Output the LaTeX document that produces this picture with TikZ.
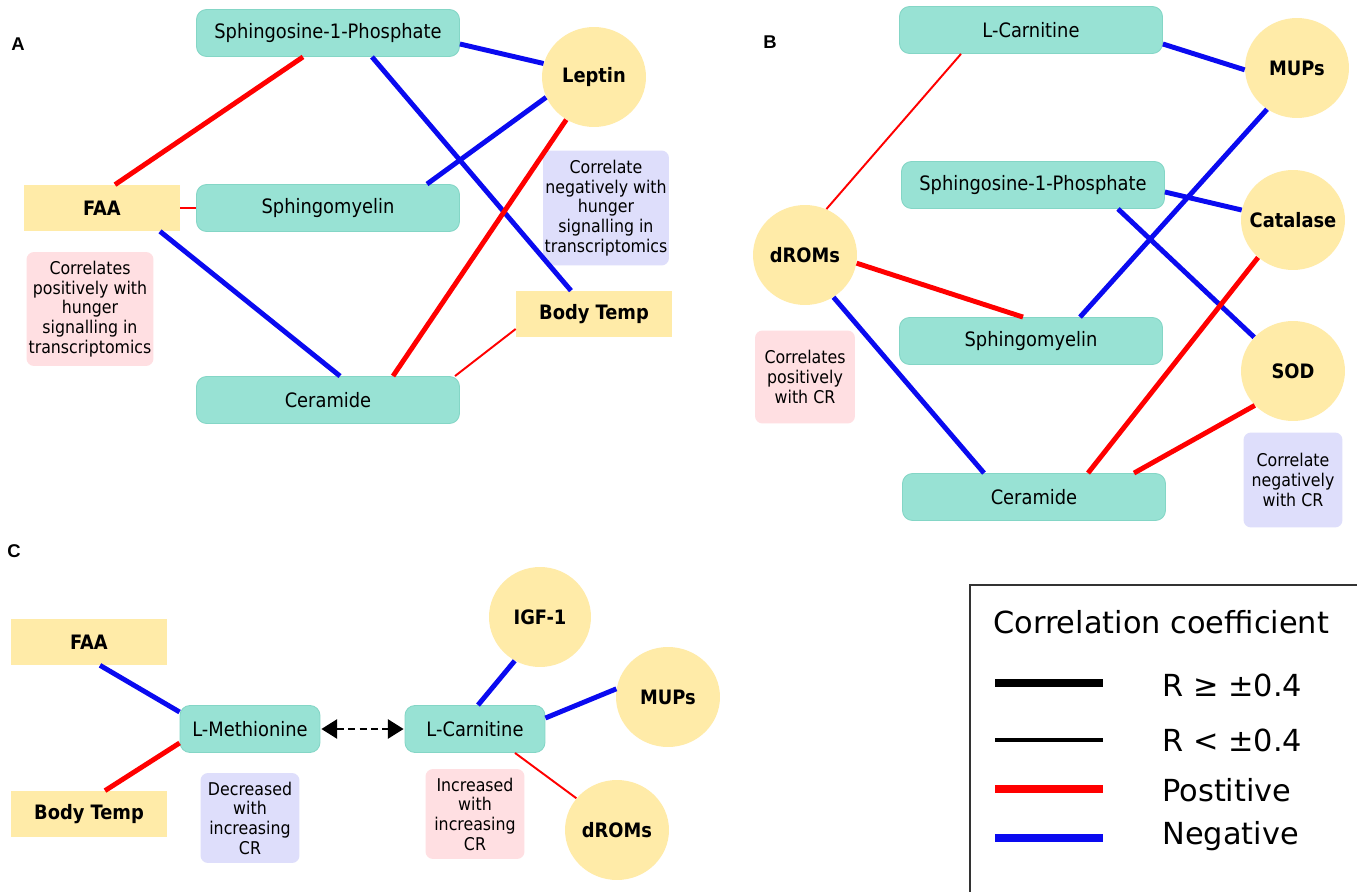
\documentclass[tikz,border=0pt]{standalone}
\usepackage{fontspec}
\setmainfont{DejaVu Sans}
\newfontfamily\condf{DejaVu Sans Condensed}
\newfontfamily\arialf{Liberation Sans}
\usetikzlibrary{shapes.geometric,arrows.meta,calc}
\newlength{\upx}\setlength{\upx}{0.02cm}
\definecolor{tealfill}{HTML}{98E2D4}
\definecolor{tealdraw}{HTML}{84D6C6}
\definecolor{yel}{HTML}{FFEBA8}
\definecolor{pinkn}{HTML}{FFDFE2}
\definecolor{bluen}{HTML}{DEDEFB}
\definecolor{posc}{HTML}{FF0000}
\definecolor{negc}{HTML}{0A0AF0}
\definecolor{legframe}{HTML}{333333}
\tikzset{
  x=0.02cm, y=-0.02cm,
  box/.style={rectangle, rounded corners=0.2cm, fill=tealfill, draw=tealdraw, line width=0.5pt,
    minimum width=5.26cm, minimum height=0.94cm, inner sep=0pt, font=\condf\fontsize{11.3}{13}\selectfont},
  sbox/.style={box, minimum width=2.8cm},
  ybox/.style={rectangle, fill=yel, minimum width=3.12cm, minimum height=0.92cm, inner sep=0pt,
    font=\condf\bfseries\fontsize{11.3}{13}\selectfont},
  circ/.style={ellipse, fill=yel, minimum width=2.08cm, minimum height=2.0cm, inner sep=0pt,
    font=\condf\bfseries\fontsize{11.3}{13}\selectfont},
  note/.style={rectangle, rounded corners=0.15cm, align=center, inner sep=0pt,
    font=\condf\fontsize{10}{11.2}\selectfont},
  pnote/.style={note, fill=pinkn},
  bnote/.style={note, fill=bluen},
  plab/.style={font=\arialf\bfseries\fontsize{10.5}{12}\selectfont, inner sep=0pt},
  posk/.style={draw=posc, line width=2.8pt},
  negk/.style={draw=negc, line width=2.8pt},
  posthin/.style={draw=posc, line width=1.1pt},
  legtext/.style={anchor=west, inner sep=0pt, font=\fontsize{17.3}{20}\selectfont},
}
\begin{document}
\begin{tikzpicture}
\useasboundingbox[fill=white] (0,0) rectangle (1357,892);

% ---------------- Panel A ----------------
\node[plab] (la) at (18,44) {A};
\node[box] (as1p) at (328,33) {Sphingosine-1-Phosphate};
\node[circ] (alep) at (594,77) {Leptin};
\node[ybox] (afaa) at (102,208) {FAA};
\node[box] (asm) at (328,208) {Sphingomyelin};
\node[box] (acer) at (328,400) {Ceramide};
\node[ybox] (abt) at (594,314) {Body Temp};
\node[pnote, minimum width=2.54cm, minimum height=2.28cm] (anp) at (90,309)
  {Correlates\\positively with\\hunger\\signalling in\\transcriptomics};
\node[bnote, minimum width=2.52cm, minimum height=2.3cm] (ann) at (606,208)
  {Correlate\\negatively with\\hunger\\signalling in\\transcriptomics};

\draw[posk] ([xshift=13\upx]afaa.north) -- ([xshift=-25\upx]as1p.south);
\draw[posthin] (afaa.east) -- (asm.west);
\draw[negk] ([xshift=58\upx]afaa.south) -- ([xshift=12\upx]acer.north);
\draw[negk] ([yshift=-11\upx]as1p.east) -- (alep.165);
\draw[negk] ([xshift=44\upx]as1p.south) -- ([xshift=-23\upx]abt.north);
\draw[negk] ([xshift=99\upx]asm.north) -- (alep.203);
\draw[posk] ([xshift=65\upx]acer.north) -- (alep.237);
\draw[posthin] ([xshift=127\upx]acer.north) -- ([yshift=-15\upx]abt.west);

% ---------------- Panel B ----------------
\node[plab] (lb) at (770,42) {B};
\node[box] (blc) at (1031,30) {L-Carnitine};
\node[circ] (bmup) at (1297,68) {MUPs};
\node[box] (bs1p) at (1033,185) {Sphingosine-1-Phosphate};
\node[circ] (bcat) at (1293,220) {\makebox[0pt]{Catalase}};
\node[circ] (bdr) at (805,255) {\makebox[0pt]{dROMs}};
\node[box] (bsm) at (1031,341) {Sphingomyelin};
\node[circ] (bsod) at (1293,371) {SOD};
\node[box] (bcer) at (1034,497) {Ceramide};
\node[pnote, minimum width=2.0cm, minimum height=1.86cm] (bnp) at (805,377)
  {Correlates\\positively\\with CR};
\node[bnote, minimum width=1.98cm, minimum height=1.9cm] (bnn) at (1293,480)
  {Correlate\\negatively\\with CR};

\draw[posthin] (bdr.65) -- ([xshift=-70\upx]blc.south);
\draw[negk] ([yshift=-14\upx]blc.east) -- (bmup.182);
\draw[posk] (bdr.-9) -- ([xshift=-8\upx]bsm.north);
\draw[negk] (bdr.304) -- ([xshift=-50\upx]bcer.north);
\draw[negk] ([xshift=49\upx]bsm.north) -- (bmup.234);
\draw[negk] ([yshift=-7\upx]bs1p.east) -- (bcat.169);
\draw[negk] ([xshift=85\upx]bs1p.south) -- (bsod.139);
\draw[posk] ([xshift=54\upx]bcer.north) -- (bcat.227);
\draw[posk] ([xshift=100\upx]bcer.north) -- (bsod.222);

% ---------------- Panel C ----------------
\node[plab] (lc) at (14,551) {C};
\node[ybox] (cfaa) at (89,642) {FAA};
\node[ybox] (cbt) at (89,814) {Body Temp};
\node[sbox] (clm) at (250,729) {L-Methionine};
\node[sbox] (clc) at (475,729) {L-Carnitine};
\node[circ, minimum width=2.04cm] (cigf) at (540,617) {IGF-1};
\node[circ] (cmup) at (668,697) {MUPs};
\node[circ] (cdr) at (617,830) {\makebox[0pt]{dROMs}};
\node[bnote, minimum width=1.98cm, minimum height=1.8cm] (cnn) at (250,818)
  {Decreased\\with\\increasing\\CR};
\node[pnote, minimum width=1.98cm, minimum height=1.8cm] (cnp) at (475,814)
  {Increased\\with\\increasing\\CR};

\draw[negk] ([xshift=11\upx]cfaa.south) -- ([yshift=17\upx]clm.west);
\draw[posk] ([xshift=16\upx]cbt.north) -- ([yshift=-14\upx]clm.west);
\draw[negk] ([xshift=3\upx]clc.north) -- (cigf.240);
\draw[negk] ([yshift=11\upx]clc.east) -- (cmup.171);
\draw[posthin] ([xshift=40\upx]clc.south) -- (cdr.142);
\draw[black, line width=1.1pt, dash pattern=on 4pt off 2.5pt,
  {Triangle[length=9pt,width=11pt]}-{Triangle[length=9pt,width=11pt]}]
  ([xshift=1\upx]clm.east) -- ([xshift=-1\upx]clc.west);

% ---------------- Legend ----------------
\coordinate (lg1) at (970,900);
\coordinate (lg2) at (970,585);
\coordinate (lg3) at (1365,585);
\draw[legframe, line width=1.2pt] (lg1) -- (lg2) -- (lg3);
\node[legtext] (lgt) at (993,622) {Correlation coefficient};
\coordinate (la1) at (995,683); \coordinate (la2) at (1103,683);
\coordinate (lb1) at (995,740); \coordinate (lb2) at (1103,740);
\coordinate (lc1) at (995,789); \coordinate (lc2) at (1103,789);
\coordinate (ld1) at (995,838); \coordinate (ld2) at (1103,838);
\draw[black, line width=4.6pt] (la1) -- (la2);
\draw[black, line width=2pt] (lb1) -- (lb2);
\draw[posc, line width=4pt] (lc1) -- (lc2);
\draw[negc, line width=4pt] (ld1) -- (ld2);
\node[legtext] (lt1) at (1162,685) {R ≥ ±0.4};
\node[legtext] (lt2) at (1162,740) {R < ±0.4};
\node[legtext] (lt3) at (1162,790) {Postitive};
\node[legtext] (lt4) at (1162,836) {Negative};
\end{tikzpicture}
\end{document}
